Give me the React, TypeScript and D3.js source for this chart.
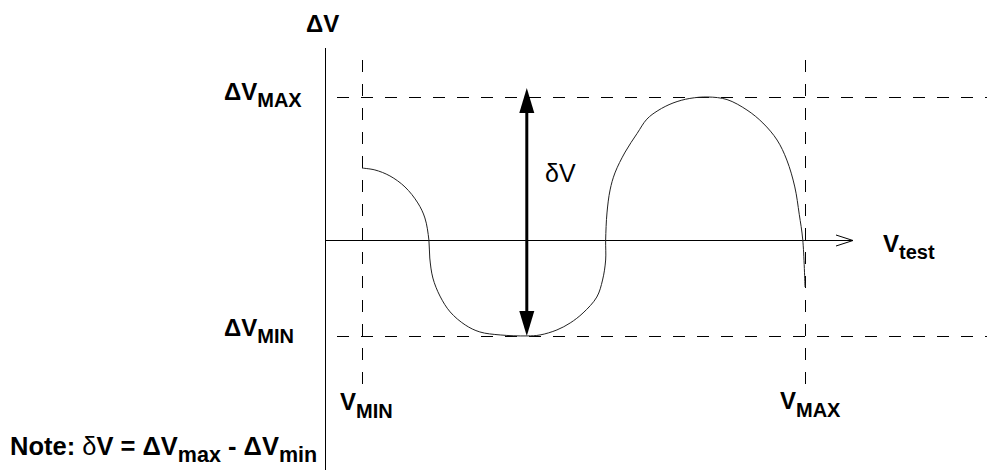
import * as d3 from 'd3'

// curve of ΔV against V_test (V_MIN = 0, V_MAX = 10; ΔV_MAX = 1)
const vTest = [
  0, 0.29, 0.63, 0.97, 1.26, 1.42, 1.51, 1.53, 1.6, 1.76, 1.99, 2.33, 2.66, 3.12, 3.72,
  4.02, 4.4, 4.7, 4.99, 5.3, 5.43, 5.5, 5.5, 5.53, 5.6, 5.71, 5.94, 6.21, 6.43, 6.68,
  7.02, 7.4, 7.81, 8.24, 8.69, 9.05, 9.37, 9.59, 9.77, 9.87, 9.95, 10.0,
]
const deltaV = [
  0.503, 0.49, 0.448, 0.371, 0.259, 0.154, 0, -0.126, -0.266, -0.392, -0.503, -0.594, -0.643, -0.664, -0.671,
  -0.664, -0.629, -0.58, -0.51, -0.399, -0.28, -0.14, 0, 0.189, 0.35, 0.469, 0.615, 0.745, 0.845, 0.905,
  0.958, 0.99, 1.0, 0.982, 0.909, 0.818, 0.699, 0.559, 0.371, 0.18, 0, -0.329,
]

const V_MIN = 0
const V_MAX = 10
const DV_MAX = 1.0
const DV_MIN = -0.671
const V_AT_MIN = 3.72

const W = 987
const H = 475
const FONT = '"Liberation Sans", Arial, sans-serif'
const MAIN = 24
const SUB = 20

export default function App() {
  const x = d3.scaleLinear().domain([V_MIN, V_MAX]).range([362, 805])
  const y = d3.scaleLinear().domain([0, DV_MAX]).range([240, 97])

  const pts = vTest.map((v, i) => [v, deltaV[i]] as [number, number])
  const line = d3
    .line<[number, number]>()
    .x(d => x(d[0]))
    .y(d => y(d[1]))
    .curve(d3.curveCatmullRom.alpha(0.5))

  const axisX = 325
  const axisY = y(0)
  const xEnd = 853
  const ax = x(V_AT_MIN)
  const topTip = y(DV_MAX) - 9
  const botTip = y(DV_MIN)
  const headL = 25
  const headW = 7.5
  const px = (v: number) => Math.round(v) + 0.5

  return (
    <svg
      width={W}
      height={H}
      style={{ position: 'absolute', left: 0, top: 0, background: '#fff' }}
      fontFamily={FONT}
    >
      {/* dashed guides */}
      <g stroke="#000" strokeWidth={1} strokeDasharray="12,12" shapeRendering="crispEdges">
        <line x1={337} x2={W} y1={px(y(DV_MAX))} y2={px(y(DV_MAX))} />
        <line x1={337} x2={W} y1={px(y(DV_MIN))} y2={px(y(DV_MIN))} />
        <line x1={px(x(V_MIN))} x2={px(x(V_MIN))} y1={60} y2={384} />
        <line x1={px(x(V_MAX))} x2={px(x(V_MAX))} y1={60} y2={384} />
      </g>

      {/* axes */}
      <g stroke="#000" strokeWidth={1} fill="none">
        <line x1={px(axisX)} x2={px(axisX)} y1={48} y2={470} shapeRendering="crispEdges" />
        <line x1={axisX} x2={xEnd} y1={px(axisY)} y2={px(axisY)} shapeRendering="crispEdges" />
        <polyline points={`${xEnd - 17},${axisY - 5} ${xEnd},${axisY + 0.5} ${xEnd - 17},${axisY + 6}`} />
      </g>

      {/* curve */}
      <path d={line(pts) ?? ''} fill="none" stroke="#222" strokeWidth={1} />

      {/* δV double arrow */}
      <line x1={ax} x2={ax} y1={topTip + headL - 2} y2={botTip - headL + 2} stroke="#000" strokeWidth={3} />
      <path d={`M${ax},${topTip} L${ax - headW},${topTip + headL} L${ax + headW},${topTip + headL} Z`} fill="#000" />
      <path d={`M${ax},${botTip} L${ax - headW},${botTip - headL} L${ax + headW},${botTip - headL} Z`} fill="#000" />
      <text x={545} y={182} fontSize={25}>δV</text>

      {/* labels */}
      <g fontWeight="bold" fontSize={MAIN} fill="#000">
        <text x={306} y={32}>ΔV</text>
        <text x={224} y={100}>
          ΔV<tspan fontSize={SUB} dy={7}>MAX</tspan>
        </text>
        <text x={224} y={336}>
          ΔV<tspan fontSize={SUB} dy={7}>MIN</tspan>
        </text>
        <text x={340} y={410}>
          V<tspan fontSize={SUB} dy={8}>MIN</tspan>
        </text>
        <text x={780} y={409}>
          V<tspan fontSize={SUB} dy={8}>MAX</tspan>
        </text>
        <text x={883} y={252}>
          V<tspan fontSize={SUB} dy={7}>test</tspan>
        </text>
        <text x={10} y={455} fontSize={25.5}>
          Note: <tspan fontWeight="normal">δ</tspan>V = ΔV<tspan fontSize={21.5} dy={7}>max</tspan>
          <tspan dy={-7}> - ΔV</tspan><tspan fontSize={21.5} dy={7}>min</tspan>
        </text>
      </g>
    </svg>
  )
}
